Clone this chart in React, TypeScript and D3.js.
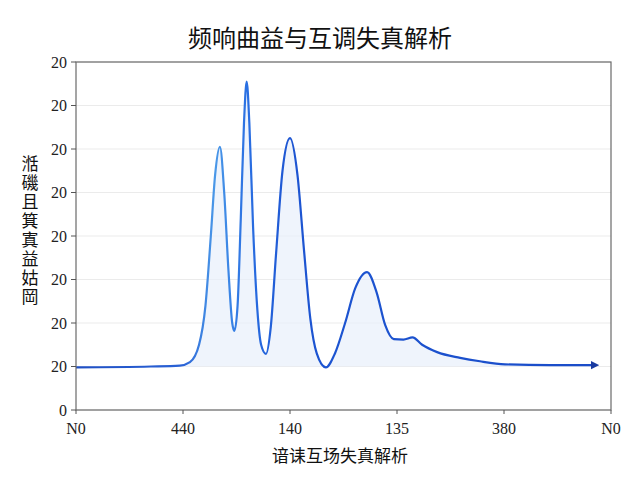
import React from "react";
import * as d3 from "d3";

// response curve samples (x in axis units, y in axis units)
const curveX = [0, 1.4, 1.94, 2.13, 2.3, 2.42, 2.52, 2.6, 2.69, 2.77, 2.85, 2.92, 2.96, 3.02, 3.08, 3.14, 3.19, 3.24, 3.31, 3.39, 3.46, 3.55, 3.64, 3.74, 3.86, 4.0, 4.14, 4.26, 4.38, 4.5, 4.67, 4.84, 5.03, 5.22, 5.44, 5.62, 5.78, 5.94, 6.12, 6.29, 6.47, 6.75, 7.18, 7.55, 8.02, 8.86, 9.7];
const curveY = [0.98, 1.0, 1.02, 1.1, 1.5, 2.4, 4.0, 5.4, 6.05, 5.0, 3.2, 2.0, 1.82, 2.4, 4.4, 6.6, 7.55, 6.6, 4.2, 2.3, 1.5, 1.29, 1.9, 3.6, 5.5, 6.25, 5.4, 3.7, 2.1, 1.3, 0.98, 1.3, 2.0, 2.8, 3.17, 2.7, 1.95, 1.63, 1.62, 1.67, 1.5, 1.33, 1.2, 1.12, 1.05, 1.03, 1.03];

const yTicks = [0, 1, 2, 3, 4, 5, 6, 7, 8];
const yTickLabels = ["0", "20", "20", "20", "20", "20", "20", "20", "20"];
const xTicks = [0, 2, 4, 6, 8, 10];
const xTickLabels = ["N0", "440", "140", "135", "380", "N0"];

const title = "频响曲益与互调失真解析";
const yTitle = "湉磯且箕寘益姑岡";
const xTitle = "谙诔互场失真解析";

export default function App() {
  const width = 640;
  const height = 480;
  const margin = { top: 62, right: 29, bottom: 70, left: 76 };
  const innerW = width - margin.left - margin.right;
  const innerH = height - margin.top - margin.bottom;

  const x = d3.scaleLinear().domain([0, 10]).range([0, innerW]);
  const y = d3.scaleLinear().domain([0, 8]).range([innerH, 0]);

  const pts = curveX.map((v, i) => [v, curveY[i]] as [number, number]);
  const line = d3.line<[number, number]>()
    .x(d => x(d[0]))
    .y(d => y(d[1]))
    .curve(d3.curveMonotoneX);
  const area = d3.area<[number, number]>()
    .x(d => x(d[0]))
    .y0(y(1))
    .y1(d => y(d[1]))
    .curve(d3.curveMonotoneX);

  const serif = "'Liberation Serif', 'Noto Sans CJK SC', serif";
  const cjk = "'Noto Sans CJK SC', serif";

  return (
    <svg width={width} height={height} style={{ position: "absolute", left: 0, top: 0, background: "#fff" }}>
      <defs>
        <linearGradient id="lineGrad" gradientUnits="userSpaceOnUse" x1={0} x2={innerW} y1={0} y2={0}>
          <stop offset="0%" stopColor="#1f4fc4" />
          <stop offset="20%" stopColor="#2a62d6" />
          <stop offset="26%" stopColor="#4a98e8" />
          <stop offset="32%" stopColor="#2a6fe2" />
          <stop offset="40%" stopColor="#1d55d2" />
          <stop offset="100%" stopColor="#1a4cc8" />
        </linearGradient>
        <marker id="arrow" viewBox="0 0 10 10" refX={5} refY={5} markerWidth={4} markerHeight={4} orient="auto">
          <path d="M0,0 L10,5 L0,10 z" fill="#1a3aa0" />
        </marker>
      </defs>
      <text x={320} y={47} textAnchor="middle" fontFamily={cjk} fontSize={24} fill="#111">{title}</text>
      <g transform={`translate(${margin.left},${margin.top})`}>
        {yTicks.map(t => (
          <line key={"g" + t} x1={0} x2={innerW} y1={y(t)} y2={y(t)} stroke="#ebebeb" strokeWidth={1} />
        ))}
        <path d={area(pts) || ""} fill="#e8f0fb" opacity={0.7} />
        <path d={line(pts) || ""} fill="none" stroke="url(#lineGrad)" strokeWidth={2.2} markerEnd="url(#arrow)" />
        <rect x={0} y={0} width={innerW} height={innerH} fill="none" stroke="#6a6a6a" strokeWidth={1.2} />
        {yTicks.map((t, i) => (
          <g key={"y" + t} transform={`translate(0,${y(t)})`}>
            <line x1={-5} x2={0} stroke="#555" />
            <text x={-9} dy="0.35em" textAnchor="end" fontFamily={serif} fontSize={16} fill="#222">{yTickLabels[i]}</text>
          </g>
        ))}
        {xTicks.map((t, i) => (
          <g key={"x" + t} transform={`translate(${x(t)},${innerH})`}>
            <line y1={0} y2={4} stroke="#555" />
            <text y={24} textAnchor="middle" fontFamily={serif} fontSize={16} fill="#222">{xTickLabels[i]}</text>
          </g>
        ))}
      </g>
      <text x={340} y={462} textAnchor="middle" fontFamily={cjk} fontSize={17} fill="#111">{xTitle}</text>
      <text x={30} y={155} fontFamily={cjk} fontSize={17} fill="#111"
        style={{ writingMode: "vertical-rl", letterSpacing: "2px" }}>{yTitle}</text>
    </svg>
  );
}
